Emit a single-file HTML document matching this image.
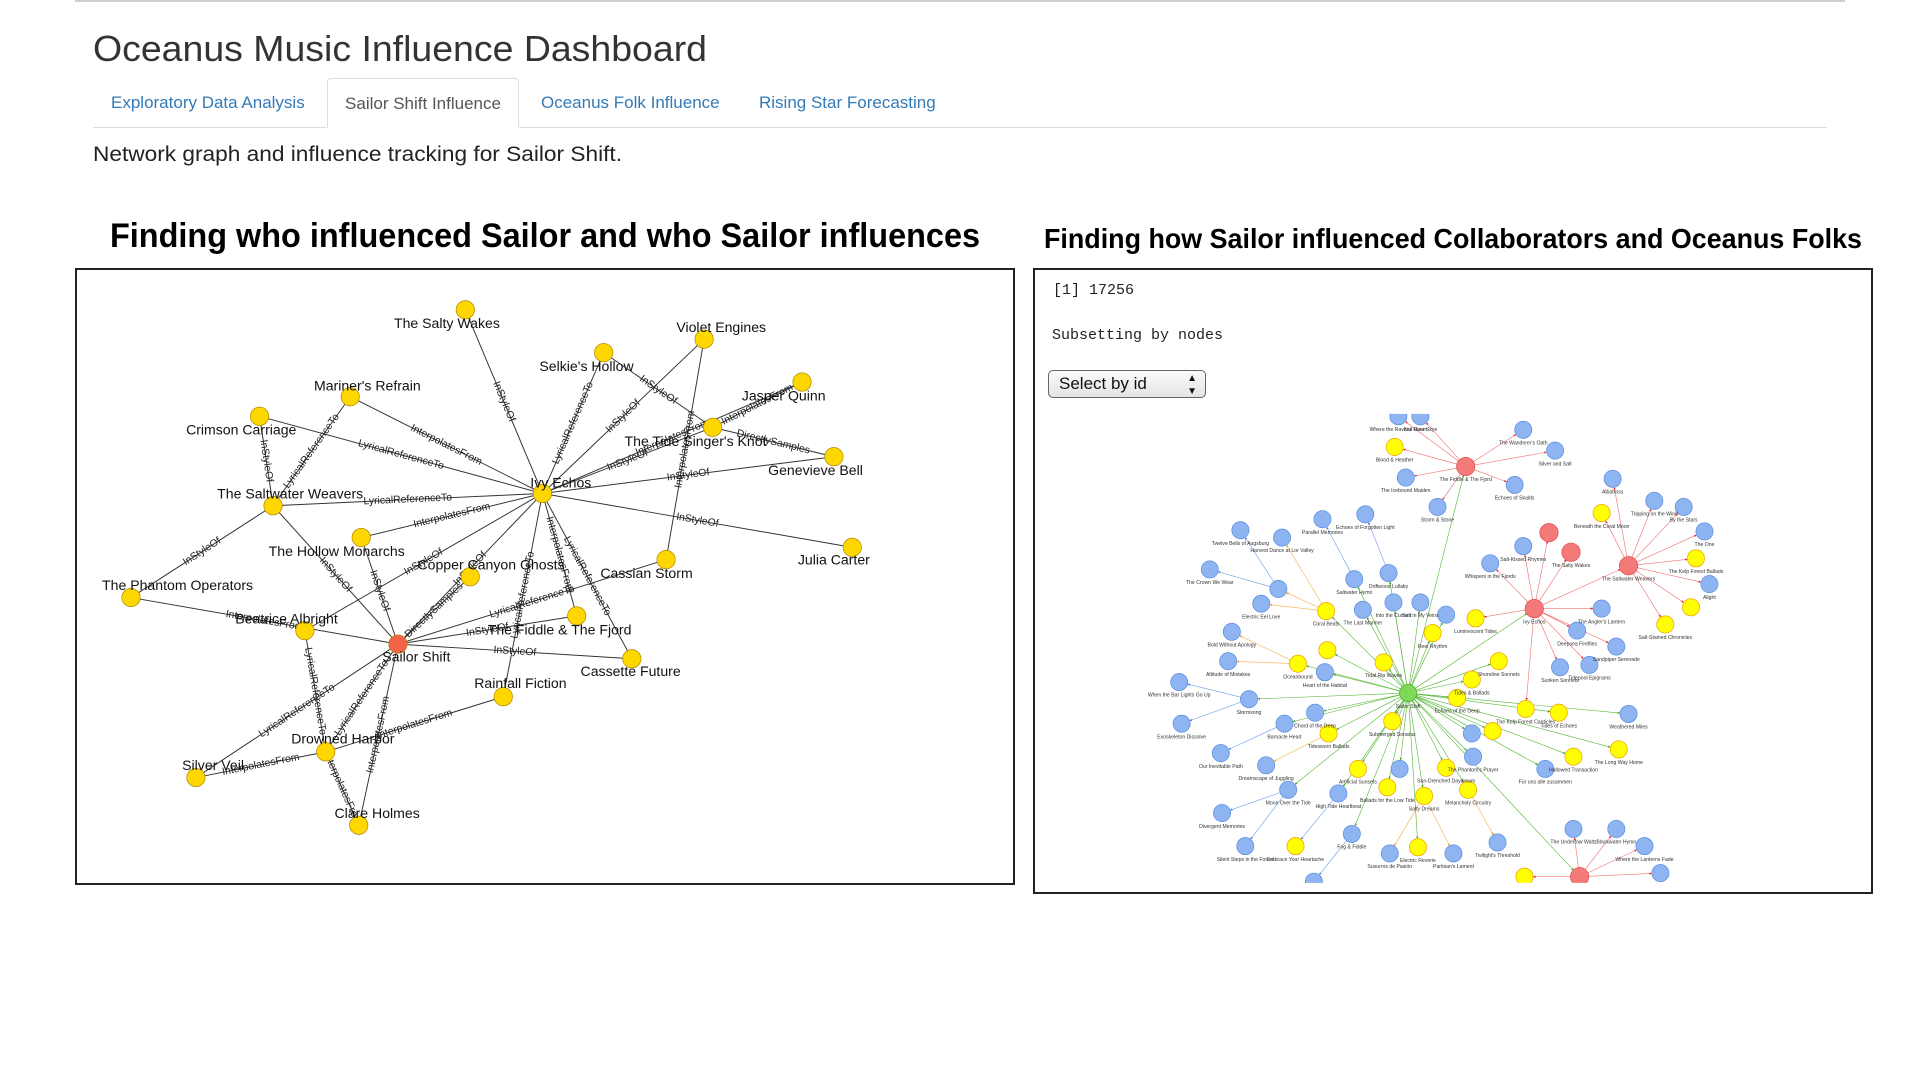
<!DOCTYPE html>
<html><head><meta charset="utf-8">
<style>
html,body{margin:0;padding:0;background:#fff;width:1920px;height:1080px;overflow:hidden;font-family:"Liberation Sans",Arial,sans-serif;}
.abs{position:absolute;white-space:nowrap;}
#topline{left:75px;top:0;width:1770px;height:2px;background:#cfcfcf;}
#title{left:93px;top:28px;font-size:36px;color:#333;}
#tabline{left:93px;top:127px;width:1734px;height:1px;background:#ddd;}
.tab{top:78px;height:49px;line-height:49px;font-size:17px;color:#337ab7;}
#tab2{left:327px;width:192px;border:1px solid #ddd;border-bottom:1px solid #fff;border-radius:4px 4px 0 0;background:#fff;color:#555;text-align:center;box-sizing:border-box;height:50px;}
#sub{left:93px;top:143px;font-size:21px;color:#222;}
.h{font-weight:bold;color:#000;font-size:34px;transform-origin:0 50%;}
.box{border:2px solid #222;box-sizing:border-box;}
.mono{font-family:"Liberation Mono",monospace;font-size:15px;color:#222;}
#sel{left:1048px;top:370px;width:158px;height:28px;border:1px solid #666;border-radius:5px;box-sizing:border-box;background:linear-gradient(#fafafa,#e4e4e4);font-size:17px;line-height:26px;padding-left:10px;color:#111;}
</style></head><body>
<div class="abs" id="topline"></div>
<div class="abs fit" id="title" data-w="614">Oceanus Music Influence Dashboard</div>
<div class="abs" id="tabline"></div>
<div class="abs tab" style="left:111px">Exploratory Data Analysis</div>
<div class="abs tab" id="tab2">Sailor Shift Influence</div>
<div class="abs tab" style="left:541px">Oceanus Folk Influence</div>
<div class="abs tab" style="left:759px">Rising Star Forecasting</div>
<div class="abs fit" id="sub" data-w="529">Network graph and influence tracking for Sailor Shift.</div>
<div class="abs h fit" style="left:110px;top:217px" data-w="870">Finding who influenced Sailor and who Sailor influences</div>
<div class="abs h fit" style="left:1044px;top:223px;font-size:28px" data-w="818">Finding how Sailor influenced Collaborators and Oceanus Folks</div>
<div class="abs box" style="left:75px;top:268px;width:940px;height:617px"></div>
<div class="abs box" style="left:1033px;top:268px;width:840px;height:626px"></div>
<div class="abs mono" style="left:1053px;top:282px">[1] 17256</div>
<div class="abs mono" style="left:1052px;top:327px">Subsetting by nodes</div>
<div class="abs" id="sel">Select by id<span style="position:absolute;right:8px;top:0;font-size:10px;line-height:13px;padding-top:1px">▲<br>▼</span></div>
<svg id="g" class="abs" style="left:0;top:0" width="1920" height="1080" viewBox="0 0 1568 882">
<defs>
<clipPath id="rc"><rect x="900" y="338" width="620" height="383"/></clipPath>
<marker id="mg" viewBox="0 0 10 10" refX="10" refY="5" markerWidth="4" markerHeight="4" orient="auto"><path d="M0,0L10,5L0,10z" fill="#3aa51a"/></marker>
<marker id="mr" viewBox="0 0 10 10" refX="10" refY="5" markerWidth="4" markerHeight="4" orient="auto"><path d="M0,0L10,5L0,10z" fill="#e82020"/></marker>
<marker id="mb" viewBox="0 0 10 10" refX="10" refY="5" markerWidth="4" markerHeight="4" orient="auto"><path d="M0,0L10,5L0,10z" fill="#3a78e0"/></marker>
<marker id="my" viewBox="0 0 10 10" refX="10" refY="5" markerWidth="4" markerHeight="4" orient="auto"><path d="M0,0L10,5L0,10z" fill="#f09010"/></marker>
</defs>
<g id="left"></g>
<g id="right" clip-path="url(#rc)"></g>
</svg>
<script>
// ---- Left network data (layout positions) ----
const leftNames = ["The Salty Wakes","Violet Engines","Selkie's Hollow","Jasper Quinn","Mariner's Refrain","Crimson Carriage","The Tide Singer's Knot","Genevieve Bell","Ivy Echos","The Saltwater Weavers","The Hollow Monarchs","Julia Carter","Cassian Storm","Copper Canyon Ghosts","The Phantom Operators","The Fiddle & The Fjord","Beatrice Albright","Sailor Shift","Cassette Future","Rainfall Fiction","Drowned Harbor","Silver Veil","Clare Holmes"];
const leftX = [380,575,493,655,286,212,582,681,443,223,295,696,544,384,107,471,249,325,516,411,266,160,293];
const leftY = [253,277,288,312,324,340,349,373,403,413,439,447,457,471,488,503,515,526,538,569,614,635,674];
const leftLabelDX = [-15,14,-14,-15,14,-15,-14,-15,15,14,-20,-15,-16,17,38,-14,-15,15,-1,14,14,14,15];
const leftLabelDY = [12,-9,12,12,-8,12,12,12,-8,-9,12,11,12,-9,-9,12,-9,11,11,-10,-10,-9,-9];
const leftEdges = [
["Ivy Echos","The Salty Wakes","InStyleOf"],["Ivy Echos","Selkie's Hollow","LyricalReferenceTo"],["Ivy Echos","Violet Engines","InStyleOf"],["Ivy Echos","The Tide Singer's Knot","InStyleOf"],["Ivy Echos","Jasper Quinn","InterpolatesFrom"],["Ivy Echos","Genevieve Bell","InStyleOf"],["Ivy Echos","Julia Carter","InStyleOf"],["Ivy Echos","Mariner's Refrain","InterpolatesFrom"],["Ivy Echos","Crimson Carriage","LyricalReferenceTo"],["Ivy Echos","The Saltwater Weavers","LyricalReferenceTo"],["Ivy Echos","The Hollow Monarchs","InterpolatesFrom"],["Ivy Echos","Sailor Shift","InStyleOf"],["Ivy Echos","Rainfall Fiction","LyricalReferenceTo"],["Ivy Echos","The Fiddle & The Fjord","InterpolatesFrom"],["Ivy Echos","Cassette Future","LyricalReferenceTo"],["Ivy Echos","Beatrice Albright","InStyleOf"],
["Selkie's Hollow","The Tide Singer's Knot","InStyleOf"],["Violet Engines","Cassian Storm","InterpolatesFrom"],["The Tide Singer's Knot","Genevieve Bell","DirectlySamples"],["The Tide Singer's Knot","Jasper Quinn","InterpolatesFrom"],
["The Saltwater Weavers","Crimson Carriage","InStyleOf"],["The Saltwater Weavers","Mariner's Refrain","LyricalReferenceTo"],["The Saltwater Weavers","The Phantom Operators","InStyleOf"],["The Saltwater Weavers","Sailor Shift","InStyleOf"],["The Hollow Monarchs","Sailor Shift","InStyleOf"],["The Phantom Operators","Sailor Shift","InterpolatesFrom"],
["Sailor Shift","Copper Canyon Ghosts","DirectlySamples"],["Sailor Shift","Cassian Storm","LyricalReferenceTo"],["Sailor Shift","The Fiddle & The Fjord","InStyleOf"],["Sailor Shift","Cassette Future","InStyleOf"],["Sailor Shift","Drowned Harbor","LyricalReferenceTo"],["Sailor Shift","Silver Veil","LyricalReferenceTo"],["Sailor Shift","Clare Holmes","InterpolatesFrom"],
["Beatrice Albright","Drowned Harbor","LyricalReferenceTo"],["Drowned Harbor","Rainfall Fiction","InterpolatesFrom"],["Drowned Harbor","Silver Veil","InterpolatesFrom"],["Drowned Harbor","Clare Holmes","InterpolatesFrom"]];

// ---- Right network data ----
const rIds = ["S","F","I","W","R1","R2","B","f1","f2","f3","f4","f5","f6","f7","f8","w1","w2","w3","w4","w5","w6","w7","w8","w9","i1","i2","i3","i4","i5","i6","i7","i8","i9","s1","s2","s3","s4","s5","s6","s7","s8","s9","s10","s11","s12","s13","s14","s15","s16","s17","s18","s19","s20","s21","s22","s23","s24","s25","s26","s27","s28","s29","s30","s31","s32","s33","s34","s35","s36","s37","s38","a1","a2","a3","a4","a5","a6","a7","a8","a9","a10","a11","a12","a13","a14","a15","a16","a17","a18","a19","a20","b1","b2","b3","b4","b5"];
const rX = [1150,1197,1253,1330,1265,1283,1290,1142,1160,1244,1270,1139,1148,1237,1174,1317,1351,1375,1392,1385,1396,1381,1360,1308,1244,1217,1308,1320,1288,1274,1298,1205,1246,1106,1134,1113,1138,1160,1181,1170,1083,1084,1130,1060,1082,1224,1202,1190,1273,1219,1137,1085,1074,1049,1020,1109,1181,1143,1203,1202,1093,1052,1133,1163,1199,1104,1285,1322,1330,1262,1158,1080,1115,1044,1013,1047,988,1030,1006,1003,963,965,997,1034,998,1017,1058,1135,1187,1223,1073,1285,1320,1343,1356,1245];
const rY = [566,381,497,462,435,451,716,340,340,351,368,365,390,396,414,391,409,414,434,456,477,496,510,419,446,460,497,528,515,545,543,505,579,473,468,498,492,492,502,517,499,531,541,542,549,540,555,570,582,597,589,599,582,591,571,628,627,628,618,599,648,645,643,650,645,681,618,612,583,628,692,424,420,481,433,439,465,493,516,540,557,591,615,625,664,691,691,697,697,688,720,677,677,691,713,716];
const rType = ["g","r","r","r","r","r","r","b","b","b","b","y","b","b","b","b","b","b","b","y","b","y","y","y","b","b","b","b","b","b","b","y","y","b","b","b","b","b","b","y","y","y","y","y","b","y","y","y","y","y","y","y","b","b","b","y","y","b","b","b","b","b","y","y","y","b","y","y","b","b","y","b","b","b","b","b","b","b","b","b","b","b","b","b","b","b","y","b","b","b","b","b","b","b","b","y"];
const rParent = ["","S","S","I","I","I","S","F","F","F","F","F","F","F","F","W","W","W","W","W","W","W","W","W","I","I","I","I","I","I","I","I","I","S","S","S","S","S","S","S","S","S","S","S","S","S","S","S","S","S","S","S","S","S","S","S","S","S","S","S","S","S","S","S","S","S","S","S","S","S","S","s1","s2","s8","a3","s8","a3","s8","s11","s11","s22","s22","s21","s19","s29","s29","s28","s31","s31","s32","s33","B","B","B","B","B"];
const rLabels = ["Sailor Shift","The Fiddle & The Fjord","Ivy Echos","The Saltwater Weavers","","The Salty Wakes","","Where the Ravens Roam","Sail Over Skye","The Wanderer's Oath","Silver and Salt","Blood & Heather","The Icebound Maiden","Echoes of Skalds","Storm & Stone","Albatross","Tripping on the Wind","By the Stars","The One","The Kelp Forest Ballads","Alight","","Salt-Stained Chronicles","Beneath the Coral Moon","Salt-Kissed Rhymes","Whispers in the Fjords","The Angler's Lantern","Sandpiper Serenade","Deepsea Fireflies","Sunken Sonnets","Tidepool Epigrams","Luminescent Tides","The Kelp Forest Canticles","Saltwater Hymn","Driftwood Lullaby","The Last Mariner","Into the Current","Salt in My Veins","","Reel Rhythm","Coral Beats","","Tidal Rip Waves","Oceanbound","Heart of the Habitat","Shoreline Sonnets","Tides & Ballads","Echoes of the Deep","Tides of Echoes","","Submerged Sonatas","Tidesworn Ballads","Chord of the Deep","Barnacle Heart","Stormsong","Artificial Sunsets","Sun-Drenched Daydream","","The Phantom's Prayer","","High Tide Heartbeat","Moon Over the Tide","Ballads for the Low Tide","Salty Dreams","Melancholy Circuitry","Fog & Fiddle","Hallowed Transaction","The Long Way Home","Weathered Miles","Für uns alle zusammen","Electric Reverie","Parallel Memories","Echoes of Forgotten Light","","Twelve Bells of Augsburg","Harvest Dance at Lor Valley","The Crown We Wear","Electric Eel Love","Bold Without Apology","Altitude of Mistakes","When the Bar Lights Go Up","Exoskeleton Dissolve","Our Inevitable Path","Dreamscape of Juggling","Divergent Memories","Silent Steps in the Forest","Embrace Your Heartache","Susurros de Pasión","Partisan's Lament","Twilight's Threshold","","The Undertow Waltz","Blackwater Hymn","Where the Lanterns Fade","",""];

const NS = "http://www.w3.org/2000/svg";
function mk(tag, attrs, parent){const e=document.createElementNS(NS,tag);for(const k in attrs)e.setAttribute(k,attrs[k]);parent.appendChild(e);return e;}

// ---- draw left ----
const L = document.getElementById('left');
const idx = n => leftNames.indexOf(n);
const eg = mk('g',{},L);


leftEdges.forEach(e=>{
  const a=idx(e[0]), b=idx(e[1]);
  const x1=leftX[a],y1=leftY[a],x2=leftX[b],y2=leftY[b];
  const ln=mk('line',{x1:x1,y1:y1,x2:x2,y2:y2,stroke:'#333','stroke-width':0.8},eg);
  
  
  let ang=Math.atan2(y2-y1,x2-x1)*180/Math.PI; if(ang>90)ang-=180; if(ang<-90)ang+=180;
  const mx=(x1+x2)/2,my=(y1+y2)/2;
  const t=mk('text',{x:mx,y:my,'font-size':8.5,fill:'#222','text-anchor':'middle','dominant-baseline':'middle',transform:`rotate(${ang} ${mx} ${my})`,'font-family':'"Liberation Sans Narrow","Liberation Sans",sans-serif'},eg);
  t.textContent=e[2];
  
  
});
leftNames.forEach((n,i)=>{
  const c=mk('circle',{cx:leftX[i],cy:leftY[i],r:7.5,fill:n==='Sailor Shift'?'#f4624a':'#ffd700',stroke:'#b08a00','stroke-width':0.6},L);
  
  
});
leftNames.forEach((n,i)=>{
  const t=mk('text',{x:leftX[i]+leftLabelDX[i],y:leftY[i]+leftLabelDY[i],'font-size':11.5,fill:'#111','text-anchor':'middle','dominant-baseline':'middle','font-family':'"Liberation Sans Narrow","Liberation Sans",sans-serif'},L);
  t.textContent=n;
  
  
});

// ---- draw right ----
const R = document.getElementById('right');
const ecol={g:'#58b838',r:'#f07070',b:'#6d9fe8',y:'#f5b040'};
const mcol={g:'mg',r:'mr',b:'mb',y:'my'};
const fill={g:'#7ed957',r:'#f47a7a',b:'#8fb4f2',y:'#ffff00'};
const strk={g:'#4caa30',r:'#e05050',b:'#5b8ee0',y:'#f0a000'};
const reg=mk('g',{},R);


rIds.forEach((id,i)=>{
  const p=rParent[i]; if(!p)return;
  const j=rIds.indexOf(p);
  const pt=rType[j];
  const x1=rX[j],y1=rY[j],x2=rX[i],y2=rY[i];
  const d=Math.hypot(x2-x1,y2-y1)||1, r=7;
  const ln=mk('line',{x1:x1,y1:y1,x2:x2-(x2-x1)/d*r,y2:y2-(y2-y1)/d*r,stroke:ecol[pt],'stroke-width':0.5,'marker-end':`url(#${mcol[pt]})`},reg);
  
  
});
rIds.forEach((id,i)=>{
  const c=mk('circle',{cx:rX[i],cy:rY[i],r:i<7&&i!==0?7.5:7,fill:fill[rType[i]],stroke:strk[rType[i]],'stroke-width':0.6},R);
  
  
});
rIds.forEach((id,i)=>{
  if(!rLabels[i])return;
  const t=mk('text',{x:rX[i],y:rY[i]+12,'font-size':4.2,fill:'#333','text-anchor':'middle','font-family':'"Liberation Sans",sans-serif'},R);
  t.textContent=rLabels[i];
  
  
});

// fit text widths
document.querySelectorAll('.fit').forEach(el=>{
  const w=el.getBoundingClientRect().width, tw=+el.dataset.w;
  if(w>0){el.style.transformOrigin='0 50%';el.style.transform=`scaleX(${tw/w})`;}
});
</script>
</body></html>
